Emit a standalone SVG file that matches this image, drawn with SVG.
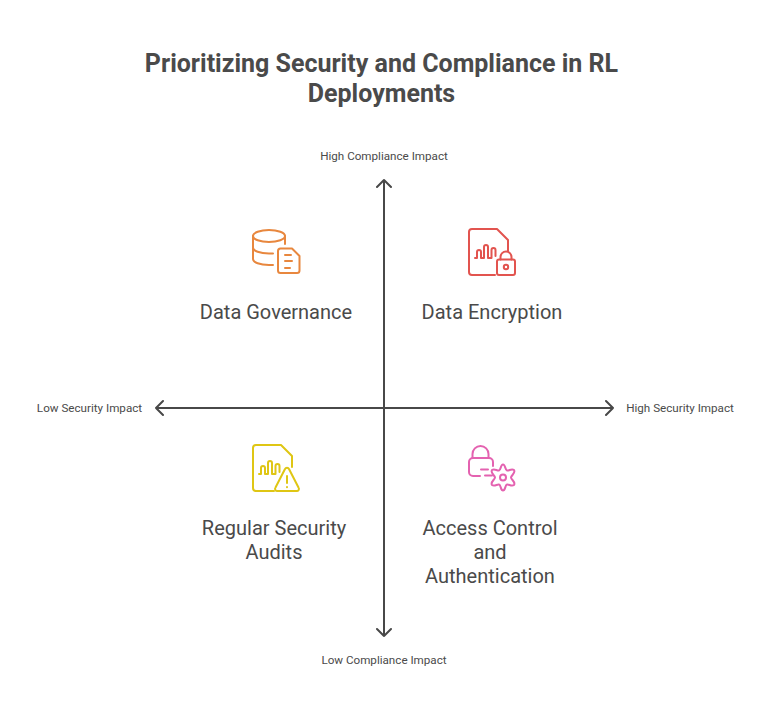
<svg xmlns="http://www.w3.org/2000/svg" width="768" height="720" viewBox="0 0 768 720">
<style>
text{font-family:Roboto,"Liberation Sans",sans-serif;fill:#4a4a4a;text-anchor:middle}
.t{font-size:25px;font-weight:700}
.l{font-size:20px}
.a{font-size:11.650px}
.ax{fill:none;stroke:#484848;stroke-width:2;stroke-linecap:round;stroke-linejoin:round}
.i{fill:none;stroke-width:2;stroke-linecap:round;stroke-linejoin:round}
</style>
<rect width="768" height="720" fill="#fff"/>
<g id="title"><text class="t" x="381.500" y="72">Prioritizing Security and Compliance in RL</text><text class="t" x="381.500" y="102">Deployments</text></g>
<g id="connectors">
<path class="ax" d="M384 180V636M377 187L384 180L391 187M377 629L384 636L391 629"/>
<path class="ax" d="M156 408H613M163 401L156 408L163 415M606 401L613 408L606 415"/>
</g>
<g id="axis-top"><text class="a" x="384" y="160">High Compliance Impact</text></g>
<g id="axis-bottom"><text class="a" x="384" y="664">Low Compliance Impact</text></g>
<g id="axis-left"><text class="a" x="89.500" y="412">Low Security Impact</text></g>
<g id="axis-right"><text class="a" x="680" y="412">High Security Impact</text></g>
<g id="data-governance">
<g class="i" stroke="#E8873E">
<ellipse cx="269" cy="236" rx="16" ry="6"/>
<path d="M253 236V259C253 262.500 260 265 269 265H273M285 236V244M253 247.500C253 251 260 253.500 269 253.500H273"/>
<path d="M278 251A2.500 2.500 0 0 1 280.500 248.500H292L299.500 256V270.500A2.500 2.500 0 0 1 297 273H280.500A2.500 2.500 0 0 1 278 270.500ZM285 255H291M285 261H292M285 268H290"/>
</g>
<text class="l" x="276" y="319">Data Governance</text>
</g>
<g id="data-encryption">
<g class="i" stroke="#E2544F">
<path d="M495 275H472A3 3 0 0 1 469 272V232A3 3 0 0 1 472 229H497L508 240V251"/>
<path d="M475 258H477V252A2 2 0 0 1 481 252V258H484V247A2 2 0 0 1 488 247V258H491.500V250A2 2 0 0 1 495.500 250V256"/>
<rect x="497" y="259.500" width="18" height="15.500" rx="2"/>
<path d="M500.500 259.500V257A5.500 5.500 0 0 1 511.500 257V259.500"/>
<circle cx="506" cy="267" r="2.200"/>
</g>
<text class="l" x="492" y="319">Data Encryption</text>
</g>
<g id="regular-security-audits">
<g class="i" stroke="#DFC614">
<path d="M274 491H256A3 3 0 0 1 253 488V448A3 3 0 0 1 256 445H281L292 456V467"/>
<path d="M259 474H261V468A2 2 0 0 1 265 468V474H268V463A2 2 0 0 1 272 463V474H275.500V466A2 2 0 0 1 279.500 466V472"/>
<path d="M285 469A2.200 2.200 0 0 1 289 469L298.500 487.500A2.200 2.200 0 0 1 296.500 491H277.500A2.200 2.200 0 0 1 275.500 487.500Z"/>
<path d="M287 476V483M287 487V487.300"/>
</g>
<text class="l" x="274" y="535">Regular Security</text>
<text class="l" x="274" y="559">Audits</text>
</g>
<g id="access-control">
<g class="i" stroke="#E462B0">
<path d="M472.500 458V454A8 8 0 0 1 488.500 454V458"/>
<path d="M493 466V462A4 4 0 0 0 489 458H473A4 4 0 0 0 469 462V472A4 4 0 0 0 473 476H480"/>
<path d="M481 469.500H488M485 475.500H492"/>
<path d="M503 464.500C505.500 464.500 505 470 507 470.500C509 471 511.500 468 514 470C516 473 511 475.500 511 477.500C511 479.500 516 482 514 485C511.500 487 509 484 507 484.500C505 485 505.500 490.500 503 490.500C500.500 490.500 501 485 499 484.500C497 484 494.500 487 492 485C490 482 495 479.500 495 477.500C495 475.500 490 473 492 470C494.500 468 497 471 499 470.500C501 470 500.500 464.500 503 464.500Z"/>
<circle cx="503" cy="477.500" r="3"/>
</g>
<text class="l" x="490" y="535">Access Control</text>
<text class="l" x="490" y="559">and</text>
<text class="l" x="490" y="583">Authentication</text>
</g>
</svg>
